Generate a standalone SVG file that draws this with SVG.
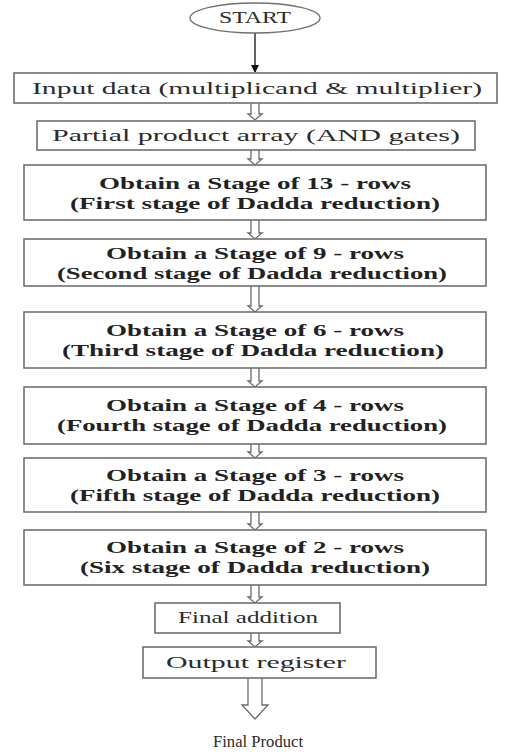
<svg xmlns="http://www.w3.org/2000/svg" width="506" height="755" viewBox="0 0 506 755">
<style>
  .box { fill: #ffffff; stroke: #707070; stroke-width: 1.6; }
  .t { font-family: "Liberation Serif", "Times New Roman", serif; font-size: 16px; fill: #2b2b2b; text-anchor: middle; }
  .b { font-weight: bold; font-size: 17px; fill: #222222; }
  .harrow { fill: #ffffff; stroke: #6a6a6a; stroke-width: 1.3; }
  .line { stroke: #222; stroke-width: 1.4; fill: none; }
</style>
<defs>
  <marker id="solid" markerWidth="8" markerHeight="8" refX="7" refY="4" orient="auto" markerUnits="userSpaceOnUse">
    <path d="M0,0 L8,4 L0,8 Z" fill="#111"/>
  </marker>
</defs>
<rect width="506" height="755" fill="#ffffff"/>

<g id="connectors">
  <line class="line" x1="255" y1="33" x2="255" y2="72" marker-end="url(#solid)"/>
  <path class="harrow" d="M251,103 L251,114 L248,114 L255,120 L262,114 L259,114 L259,103"/>
  <path class="harrow" d="M251,150 L251,159 L248,159 L255,165 L262,159 L259,159 L259,150"/>
  <path class="harrow" d="M251,220 L251,233 L248,233 L255,239 L262,233 L259,233 L259,220"/>
  <path class="harrow" d="M251,286 L251,306 L248,306 L255,312 L262,306 L259,306 L259,286"/>
  <path class="harrow" d="M251,368 L251,381 L248,381 L255,387 L262,381 L259,381 L259,368"/>
  <path class="harrow" d="M251,444 L251,452 L248,452 L255,458 L262,452 L259,452 L259,444"/>
  <path class="harrow" d="M251,512 L251,524 L248,524 L255,530 L262,524 L259,524 L259,512"/>
  <path class="harrow" d="M251,585 L251,597 L248,597 L255,603 L262,597 L259,597 L259,585"/>
  <path class="harrow" d="M251,633 L251,641 L248,641 L255,647 L262,641 L259,641 L259,633"/>
  <path class="harrow" d="M248,678 L248,705 L242,705 L255,719 L268,705 L262,705 L262,678"/>
</g>

<g id="start">
  <ellipse cx="255" cy="18" rx="65" ry="15" fill="#ffffff" stroke="#707070" stroke-width="1.4"/>
  <text class="t" x="255" y="23" font-size="14" textLength="72" lengthAdjust="spacingAndGlyphs">START</text>
</g>

<g id="input">
  <rect class="box" x="14" y="73" width="483" height="30"/>
  <text class="t" x="257" y="94" textLength="450" lengthAdjust="spacingAndGlyphs">Input data (multiplicand &amp; multiplier)</text>
</g>

<g id="partial">
  <rect class="box" x="37" y="121" width="438" height="29"/>
  <text class="t" x="256" y="141" textLength="408" lengthAdjust="spacingAndGlyphs">Partial product array (AND gates)</text>
</g>

<g id="stage13">
  <rect class="box" x="24" y="165" width="462" height="55"/>
  <text class="t b" x="255" y="189" textLength="312" lengthAdjust="spacingAndGlyphs">Obtain a Stage of 13 - rows</text>
  <text class="t b" x="255" y="209" textLength="370" lengthAdjust="spacingAndGlyphs">(First stage of Dadda reduction)</text>
</g>

<g id="stage9">
  <rect class="box" x="24" y="239" width="462" height="47"/>
  <text class="t b" x="255" y="259" textLength="298" lengthAdjust="spacingAndGlyphs">Obtain a Stage of 9 - rows</text>
  <text class="t b" x="252" y="279" textLength="390" lengthAdjust="spacingAndGlyphs">(Second stage of Dadda reduction)</text>
</g>

<g id="stage6">
  <rect class="box" x="24" y="312" width="462" height="56"/>
  <text class="t b" x="255" y="336" textLength="298" lengthAdjust="spacingAndGlyphs">Obtain a Stage of 6 - rows</text>
  <text class="t b" x="253" y="356" textLength="382" lengthAdjust="spacingAndGlyphs">(Third stage of Dadda reduction)</text>
</g>

<g id="stage4">
  <rect class="box" x="24" y="387" width="462" height="57"/>
  <text class="t b" x="255" y="411" textLength="298" lengthAdjust="spacingAndGlyphs">Obtain a Stage of 4 - rows</text>
  <text class="t b" x="252" y="431" textLength="390" lengthAdjust="spacingAndGlyphs">(Fourth stage of Dadda reduction)</text>
</g>

<g id="stage3">
  <rect class="box" x="24" y="458" width="462" height="54"/>
  <text class="t b" x="255" y="481" textLength="298" lengthAdjust="spacingAndGlyphs">Obtain a Stage of 3 - rows</text>
  <text class="t b" x="255" y="501" textLength="370" lengthAdjust="spacingAndGlyphs">(Fifth stage of Dadda reduction)</text>
</g>

<g id="stage2">
  <rect class="box" x="24" y="530" width="462" height="55"/>
  <text class="t b" x="255" y="553" textLength="298" lengthAdjust="spacingAndGlyphs">Obtain a Stage of 2 - rows</text>
  <text class="t b" x="255" y="573" textLength="350" lengthAdjust="spacingAndGlyphs">(Six stage of Dadda reduction)</text>
</g>

<g id="final-addition">
  <rect class="box" x="155" y="603" width="185" height="30"/>
  <text class="t" x="248" y="623" textLength="140" lengthAdjust="spacingAndGlyphs">Final addition</text>
</g>

<g id="output-register">
  <rect class="box" x="143" y="647" width="233" height="31"/>
  <text class="t" x="256" y="668" textLength="180" lengthAdjust="spacingAndGlyphs">Output register</text>
</g>

<g id="final-product">
  <text class="t" x="258" y="747" textLength="90" lengthAdjust="spacingAndGlyphs">Final Product</text>
</g>
</svg>
